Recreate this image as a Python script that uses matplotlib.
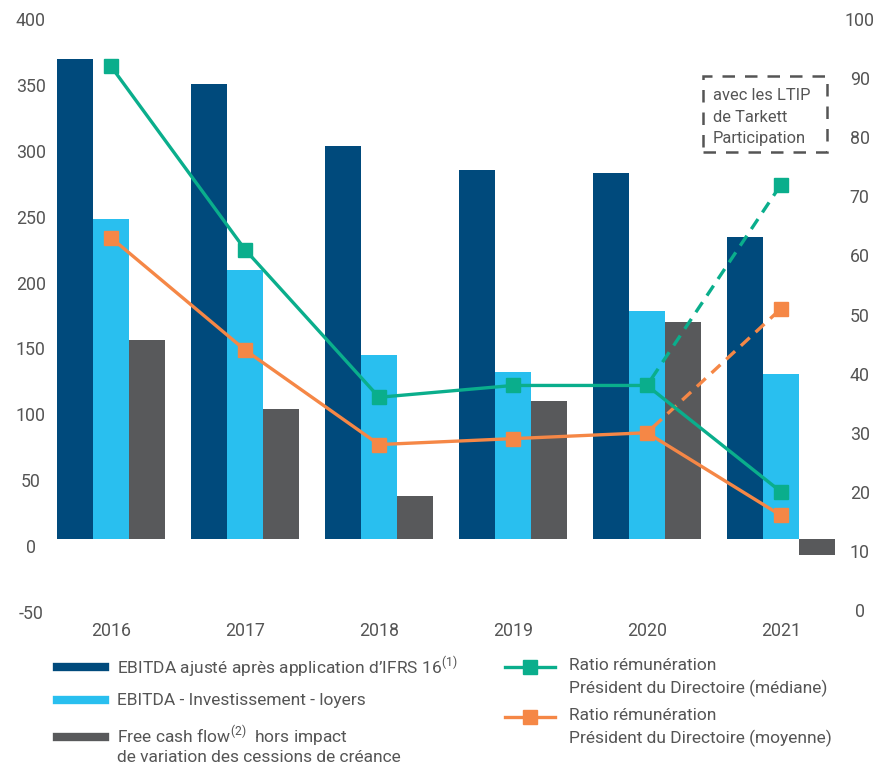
import numpy as np
import matplotlib
matplotlib.use("Agg")
import matplotlib.pyplot as plt
from matplotlib.lines import Line2D
from matplotlib.patches import Rectangle
from matplotlib.transforms import ScaledTranslation

plt.rcParams['font.family'] = ['Roboto', 'DejaVu Sans']
plt.rcParams['mathtext.fontset'] = 'custom'
plt.rcParams['mathtext.rm'] = 'Roboto'
plt.rcParams['axes.unicode_minus'] = False

# data
years = ["2016", "2017", "2018", "2019", "2020", "2021"]
ebitda_ifrs = [364, 345, 298, 280, 278, 229]
ebitda_inv = [243, 204, 140, 127, 173, 125]
fcf = [151, 99, 33, 105, 165, -12]
ratio_median = [92, 61, 36, 38, 38, 20]
ratio_mean = [63, 44, 28, 29, 30, 16]
# with Tarkett Participation LTIP (2020 -> 2021)
ltip_median = [38, 72]
ltip_mean = [30, 51]

left_ticks = [-50, 0, 50, 100, 150, 200, 250, 300, 350, 400]
right_ticks = [0, 10, 20, 30, 40, 50, 60, 70, 80, 90, 100]

c_dark = "#004A7C"
c_light = "#29BFEF"
c_gray = "#58595B"
c_green = "#0AAE8C"
c_orange = "#F58746"
c_text = "#555555"
fs = 12.8
fl = 12.5

fig = plt.figure(figsize=(8.76, 7.64), dpi=100)
ax = fig.add_axes([44 / 876, 154 / 764, 804 / 876, 598 / 764])
ax2 = ax.twinx()

x = np.arange(len(years))
w = 0.27
ax.bar(x - w, ebitda_ifrs, w, color=c_dark, zorder=2)
ax.bar(x, ebitda_inv, w, color=c_light, zorder=2)
ax.bar(x + w, fcf, w, color=c_gray, zorder=2)

ax.set_xlim(-0.5, 5.5)
ax.set_ylim(-53.8, 400)
ax2.set_ylim(0, 101.2)

ax2.plot(x, ratio_median, color=c_green, lw=2.4, marker='s', ms=10, zorder=5)
ax2.plot(x, ratio_mean, color=c_orange, lw=2.4, marker='s', ms=10, zorder=5)
ax2.plot(x[4:], ltip_median, color=c_green, lw=2.4, linestyle=(3.6, (3.6, 2.4)), zorder=4)
ax2.plot(x[4:], ltip_mean, color=c_orange, lw=2.4, linestyle=(3.6, (3.6, 2.4)), zorder=4)
ax2.plot([x[5]], [ltip_median[1]], color=c_green, marker='s', ms=10, ls='none', zorder=5)
ax2.plot([x[5]], [ltip_mean[1]], color=c_orange, marker='s', ms=10, ls='none', zorder=5)

for a in (ax, ax2):
    for s in a.spines.values():
        s.set_visible(False)
    a.tick_params(length=0, labelsize=fs, labelcolor=c_text)

ax.set_xticks(x, years)
ax.tick_params(axis='x', pad=9)
ax.set_yticks(left_ticks)
ax.tick_params(axis='y', pad=9.5)
for lab in ax.get_yticklabels():
    lab.set_horizontalalignment('center')
    lab.set_transform(lab.get_transform() + ScaledTranslation(0, -0.07, fig.dpi_scale_trans))
ax2.set_yticks(right_ticks)
ax2.tick_params(axis='y', pad=8.5)
for lab in ax2.get_yticklabels():
    lab.set_horizontalalignment('center')


def fx(px):
    return px / 876


def fy(py):
    return 1 - py / 764


# annotation box
fig.patches.append(Rectangle((fx(703), fy(152)), 124 / 876, 76 / 764,
                             transform=fig.transFigure, fill=False, ec=c_text,
                             lw=1.8, ls=(0, (5, 4))))
for py, t in [(96, "avec les LTIP"), (118, "de Tarkett"), (139, "Participation")]:
    fig.text(fx(713), fy(py), t, ha='left', va='center', fontsize=11.9, color=c_text)

# legend
for py, col in [(667, c_dark), (700, c_light), (737, c_gray)]:
    fig.lines.append(Line2D([fx(57), fx(105)], [fy(py), fy(py)], transform=fig.transFigure,
                            color=col, lw=6))
left_texts = [
    (667, r"EBITDA ajusté après application d’IFRS 16$^{(1)}$"),
    (701, "EBITDA - Investissement - loyers"),
    (736, r"Free cash flow$^{(2)}$  hors impact"),
    (758, "de variation des cessions de créance"),
]
for py, t in left_texts:
    fig.text(fx(117), fy(py), t, va='center', fontsize=fl, color=c_text)

for py, col in [(667, c_green), (717, c_orange)]:
    fig.lines.append(Line2D([fx(505), fx(555)], [fy(py), fy(py)], transform=fig.transFigure,
                            color=col, lw=2.4))
    fig.lines.append(Line2D([fx(530)], [fy(py)], transform=fig.transFigure,
                            color=col, marker='s', ms=10, ls='none'))
right_texts = [
    (665, "Ratio rémunération"),
    (688, "Président du Directoire (médiane)"),
    (715, "Ratio rémunération"),
    (738, "Président du Directoire (moyenne)"),
]
for py, t in right_texts:
    fig.text(fx(569), fy(py), t, va='center', fontsize=fl, color=c_text)

fig.savefig("out.png", dpi=100)
